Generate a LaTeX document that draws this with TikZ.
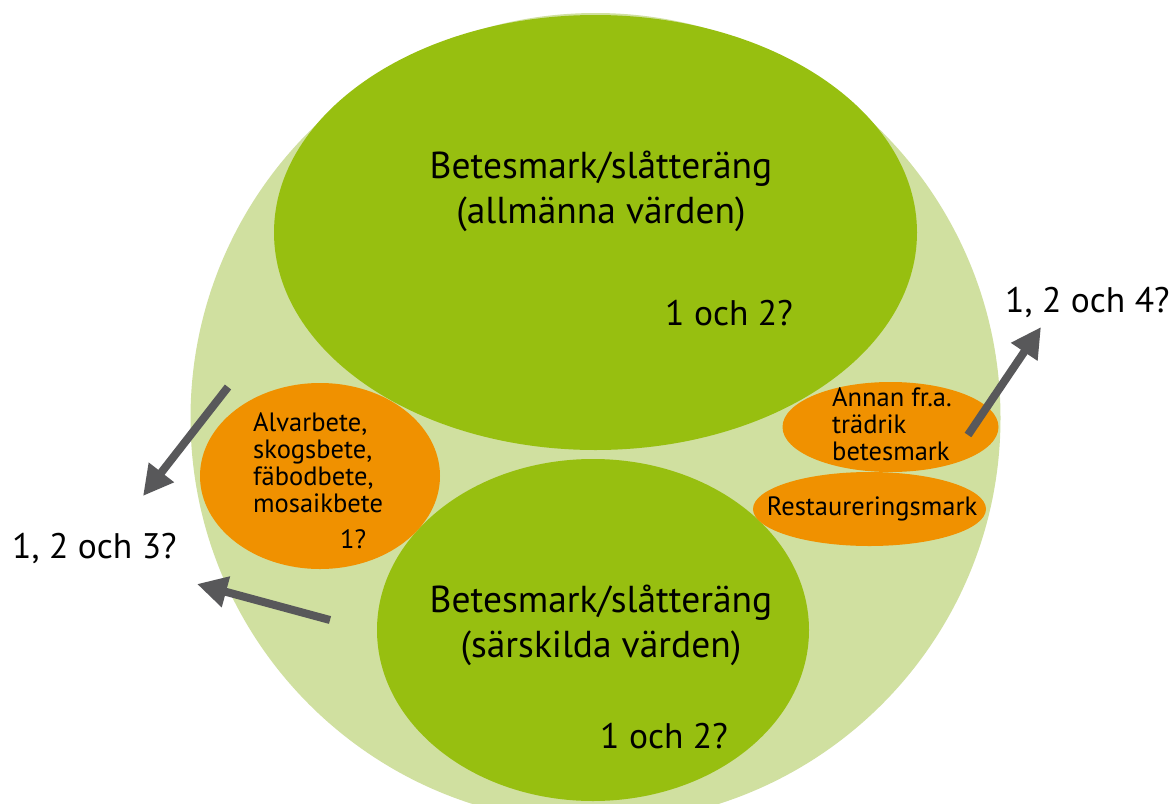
\documentclass[tikz,border=0pt]{standalone}
\usepackage{fontspec}
\setmainfont{PT Sans}
\usetikzlibrary{arrows.meta}
\definecolor{lightgr}{HTML}{D0E0A0}
\definecolor{darkgr}{HTML}{97BF10}
\definecolor{orng}{HTML}{F09100}
\definecolor{arrowgray}{HTML}{58585A}
\tikzset{
  bigtxt/.style={inner sep=0pt, font=\fontsize{37.5}{45}\selectfont, align=center, anchor=base},
  numtxt/.style={inner sep=0pt, font=\fontsize{35.5}{40}\selectfont, anchor=base west},
  smalltxt/.style={inner sep=0pt, font=\fontsize{26.5}{27}\selectfont, align=left, anchor=base west},
  fatarrow/.style={draw=arrowgray, line width=8pt, -{Triangle[length=30pt,width=30pt]}, fill=arrowgray},
}
\begin{document}
\begin{tikzpicture}[x=1pt,y=-1pt]
\useasboundingbox (0,0) rectangle (1172,803);
\clip (0,0) rectangle (1172,803);
\fill[white] (0,0) rectangle (1172,803);
% shapes
\fill[lightgr] (595.5,418) circle [radius=405];
\fill[darkgr] (595.5,232.5) ellipse [x radius=321.5, y radius=217.5];
\fill[darkgr] (593,630) ellipse [x radius=216, y radius=171];
\fill[orng] (320,476) ellipse [x radius=120, y radius=93];
\fill[orng] (890.5,427) ellipse [x radius=108, y radius=45];
\fill[orng] (869.5,509) ellipse [x radius=116.5, y radius=37];
% texts (base anchor = baseline of the last line)
\node[bigtxt] (topt) at (601,223) {Betesmark/slåtteräng\\(allmänna värden)};
\node[numtxt] (topn) at (665,325) {1 och 2?};
\node[bigtxt] (bott) at (601,657) {Betesmark/slåtteräng\\(särskilda värden)};
\node[numtxt] (botn) at (600,748) {1 och 2?};
\node[smalltxt] (leftt) at (253,512) {Alvarbete,\\skogsbete,\\fäbodbete,\\mosaikbete};
\node[smalltxt] (leftn) at (340,548) {1?};
\node[smalltxt] (rightt) at (832,460) {Annan fr.a.\\trädrik\\betesmark};
\node[smalltxt, anchor=base] (rest) at (872,515) {Restaureringsmark};
\node[numtxt] (lab3) at (12,558) {1, 2 och 3?};
\node[numtxt] (lab4) at (1005,312) {1, 2 och 4?};
% arrows
\coordinate (a1s) at (228,387);
\coordinate (a1e) at (143,496);
\coordinate (a2s) at (330,620);
\coordinate (a2e) at (197,584);
\coordinate (a3s) at (968,435);
\coordinate (a3e) at (1041,327);
\draw[fatarrow] (a1s) -- (a1e);
\draw[fatarrow] (a2s) -- (a2e);
\draw[fatarrow] (a3s) -- (a3e);
\end{tikzpicture}
\end{document}
